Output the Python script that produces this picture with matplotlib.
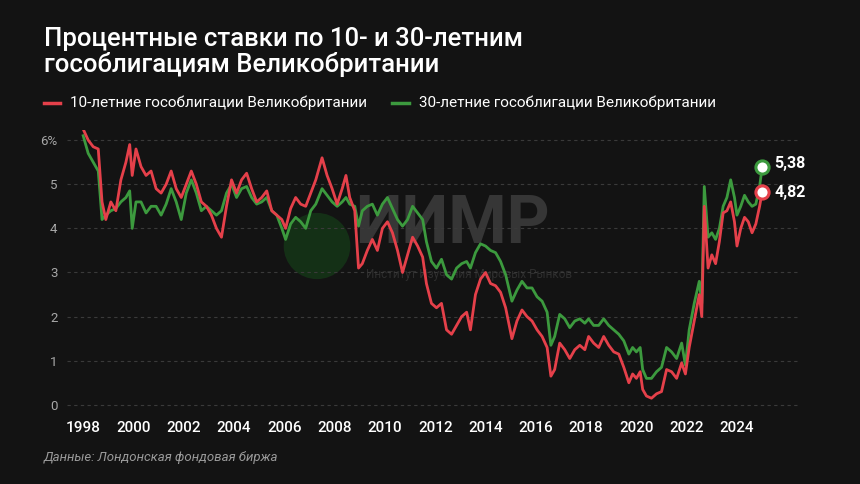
import matplotlib.pyplot as plt
from matplotlib.patches import Ellipse

plt.rcParams['font.family'] = ['Roboto', 'DejaVu Sans']

# Dates (decimal years), with both yields at each date (%)
dates = [1998.0, 1998.2, 1998.4, 1998.6, 1998.75, 1998.9, 1999.1, 1999.3, 1999.5, 1999.7,
         1999.85, 1999.95, 2000.1, 2000.3, 2000.5, 2000.7, 2000.9, 2001.1, 2001.3, 2001.5,
         2001.7, 2001.9, 2002.1, 2002.3, 2002.5, 2002.7, 2002.9, 2003.1, 2003.3, 2003.5,
         2003.7, 2003.9, 2004.1, 2004.3, 2004.5, 2004.7, 2004.9, 2005.1, 2005.3, 2005.5,
         2005.7, 2005.9, 2006.05, 2006.25, 2006.45, 2006.65, 2006.85, 2007.05, 2007.25, 2007.5,
         2007.7, 2007.9, 2008.1, 2008.3, 2008.45, 2008.6, 2008.8, 2008.95, 2009.1, 2009.3,
         2009.5, 2009.7, 2009.9, 2010.1, 2010.3, 2010.5, 2010.7, 2010.9, 2011.1, 2011.3,
         2011.5, 2011.65, 2011.85, 2012.05, 2012.25, 2012.45, 2012.65, 2012.85, 2013.05, 2013.25,
         2013.4, 2013.6, 2013.8, 2014.0, 2014.2, 2014.4, 2014.6, 2014.8, 2015.05, 2015.25,
         2015.45, 2015.65, 2015.85, 2016.05, 2016.25, 2016.45, 2016.6, 2016.75, 2016.95, 2017.15,
         2017.35, 2017.55, 2017.75, 2017.95, 2018.1, 2018.3, 2018.5, 2018.7, 2018.9, 2019.1,
         2019.3, 2019.5, 2019.7, 2019.85, 2020.0, 2020.15, 2020.25, 2020.4, 2020.6, 2020.8,
         2021.0, 2021.2, 2021.4, 2021.6, 2021.8, 2021.95, 2022.1, 2022.3, 2022.5, 2022.6,
         2022.7, 2022.85, 2023.0, 2023.15, 2023.3, 2023.45, 2023.6, 2023.75, 2023.9, 2024.0,
         2024.15, 2024.3, 2024.45, 2024.6, 2024.75, 2024.9, 2025.0]

gilt_10y = [6.25, 6.0, 5.85, 5.8, 4.6, 4.2, 4.6, 4.4, 5.1, 5.5,
            5.9, 5.2, 5.8, 5.4, 5.2, 5.3, 4.9, 4.8, 5.0, 5.3,
            4.9, 4.7, 5.0, 5.3, 5.0, 4.6, 4.5, 4.3, 4.0, 3.8,
            4.5, 5.1, 4.8, 5.1, 5.25, 4.9, 4.6, 4.7, 4.85, 4.4,
            4.3, 4.2, 4.0, 4.45, 4.7, 4.55, 4.5, 4.8, 5.1, 5.6,
            5.2, 4.9, 4.55, 4.9, 5.2, 4.7, 4.4, 3.1, 3.2, 3.5,
            3.75, 3.5, 4.0, 4.15, 3.9, 3.5, 3.0, 3.4, 3.8, 3.6,
            3.35, 2.75, 2.3, 2.2, 2.3, 1.7, 1.6, 1.8, 2.0, 2.1,
            1.7, 2.5, 2.85, 3.0, 2.75, 2.7, 2.55, 2.2, 1.5, 1.9,
            2.15, 2.0, 1.9, 1.7, 1.55, 1.3, 0.65, 0.8, 1.4, 1.25,
            1.05, 1.25, 1.35, 1.25, 1.55, 1.4, 1.3, 1.55, 1.35, 1.2,
            1.15, 0.85, 0.5, 0.7, 0.6, 0.75, 0.35, 0.2, 0.15, 0.25,
            0.3, 0.8, 0.75, 0.6, 0.95, 0.7, 1.3, 1.9, 2.5, 2.0,
            4.5, 3.1, 3.4, 3.2, 3.7, 4.35, 4.4, 4.6, 4.15, 3.6,
            4.0, 4.25, 4.15, 3.9, 4.1, 4.5, 4.82]

gilt_30y = [6.1, 5.7, 5.5, 5.3, 4.2, 4.3, 4.4, 4.45, 4.6, 4.7,
            4.85, 4.0, 4.6, 4.6, 4.35, 4.5, 4.5, 4.3, 4.55, 4.9,
            4.6, 4.2, 4.8, 5.1, 4.8, 4.4, 4.5, 4.4, 4.3, 4.4,
            4.8, 5.0, 4.7, 4.9, 4.95, 4.7, 4.55, 4.6, 4.7, 4.4,
            4.3, 4.0, 3.75, 4.1, 4.25, 4.15, 4.0, 4.4, 4.55, 4.9,
            4.75, 4.6, 4.5, 4.6, 4.7, 4.55, 4.5, 4.05, 4.4, 4.5,
            4.55, 4.3, 4.55, 4.7, 4.45, 4.2, 4.05, 4.2, 4.5, 4.35,
            4.2, 3.7, 3.25, 3.1, 3.3, 2.95, 2.85, 3.1, 3.2, 3.25,
            3.1, 3.45, 3.65, 3.6, 3.5, 3.45, 3.25, 2.95, 2.35, 2.6,
            2.8, 2.65, 2.65, 2.45, 2.35, 2.1, 1.35, 1.55, 2.05, 1.95,
            1.75, 1.9, 1.95, 1.85, 1.95, 1.8, 1.8, 1.95, 1.8, 1.7,
            1.6, 1.45, 1.15, 1.3, 1.2, 1.3, 0.8, 0.6, 0.6, 0.75,
            0.85, 1.3, 1.2, 1.05, 1.4, 0.9, 1.7, 2.3, 2.8, 2.3,
            4.95, 3.8, 3.9, 3.75, 4.0, 4.5, 4.7, 5.1, 4.7, 4.3,
            4.5, 4.75, 4.6, 4.5, 4.55, 4.95, 5.38]

year_ticks = list(range(1998, 2025, 2))
y_ticks = [0, 1, 2, 3, 4, 5, 6]
y_labels = ['0', '1', '2', '3', '4', '5', '6%']

bg = '#131313'
red = '#e5404a'
green = '#3c9a3e'

fig = plt.figure(figsize=(8.6, 4.84), dpi=100, facecolor=bg)
ax = fig.add_axes([0.078, 0.1426, 0.85, 0.5888], facecolor=bg)

# Watermark
ax.add_patch(Ellipse((2007.3, 3.6), 2.65, 1.5, facecolor='#153a18', edgecolor='none',
                     alpha=0.75, zorder=0.5))
ax.text(0.413, 0.535, 'ИИМР', transform=fig.transFigure, fontsize=48, fontweight='bold',
        color='#363636', va='center', ha='left', zorder=0.6)
ax.text(0.425, 0.432, 'Институт Изучения Мировых Рынков', transform=fig.transFigure,
        fontsize=8.5, color='#2e2e2e', va='center', ha='left', zorder=0.6)

# Series
ax.plot(dates, gilt_30y, color=green, lw=2, zorder=2)
ax.plot(dates, gilt_10y, color=red, lw=2, zorder=3)

# End markers
ax.scatter([dates[-1]], [gilt_30y[-1]], s=90, facecolor='white', edgecolor=green,
           linewidth=2.2, zorder=5)
ax.scatter([dates[-1]], [gilt_10y[-1]], s=90, facecolor='white', edgecolor=red,
           linewidth=2.2, zorder=5)
ax.annotate(f'{gilt_30y[-1]:.2f}'.replace('.', ','), (dates[-1], gilt_30y[-1]),
            xytext=(9, 3), textcoords='offset points', color='white', fontsize=11.5,
            fontweight='bold', va='center')
ax.annotate(f'{gilt_10y[-1]:.2f}'.replace('.', ','), (dates[-1], gilt_10y[-1]),
            xytext=(9, 0), textcoords='offset points', color='white', fontsize=11.5,
            fontweight='bold', va='center')

ax.set_xlim(1997.36, 2026.43)
ax.set_ylim(-0.23, 6.23)
ax.set_xticks(year_ticks)
ax.set_xticklabels([str(y) for y in year_ticks], color='white', fontsize=11,
                   fontweight='medium')
ax.set_yticks(y_ticks)
ax.set_yticklabels(y_labels, color='#a8a8a8', fontsize=9.5)
ax.tick_params(length=0, axis='x', pad=4)
ax.tick_params(length=0, axis='y', pad=7)
ax.grid(axis='y', color='#3a3a3a', lw=0.8, linestyle=(0, (3, 3)), zorder=0)
for s in ax.spines.values():
    s.set_visible(False)

# Title, legend, source
fig.text(0.051, 0.945, 'Процентные ставки по 10- и 30-летним\nгособлигациям Великобритании',
         color='white', fontsize=18.5, fontweight='medium', va='top', ha='left',
         linespacing=1.05)
fig.lines.append(plt.Line2D([0.051, 0.07], [0.787, 0.787], color=red, lw=2.5,
                            transform=fig.transFigure))
fig.text(0.081, 0.787, '10-летние гособлигации Великобритании', color='white',
         fontsize=11, va='center', ha='left')
fig.lines.append(plt.Line2D([0.456, 0.475], [0.787, 0.787], color=green, lw=2.5,
                            transform=fig.transFigure))
fig.text(0.487, 0.787, '30-летние гособлигации Великобритании', color='white',
         fontsize=11, va='center', ha='left')
fig.text(0.051, 0.055, 'Данные: Лондонская фондовая биржа', color='#9a9a9a',
         fontsize=9.5, style='italic', va='center', ha='left')

fig.savefig('out.png', dpi=100, facecolor=bg)
